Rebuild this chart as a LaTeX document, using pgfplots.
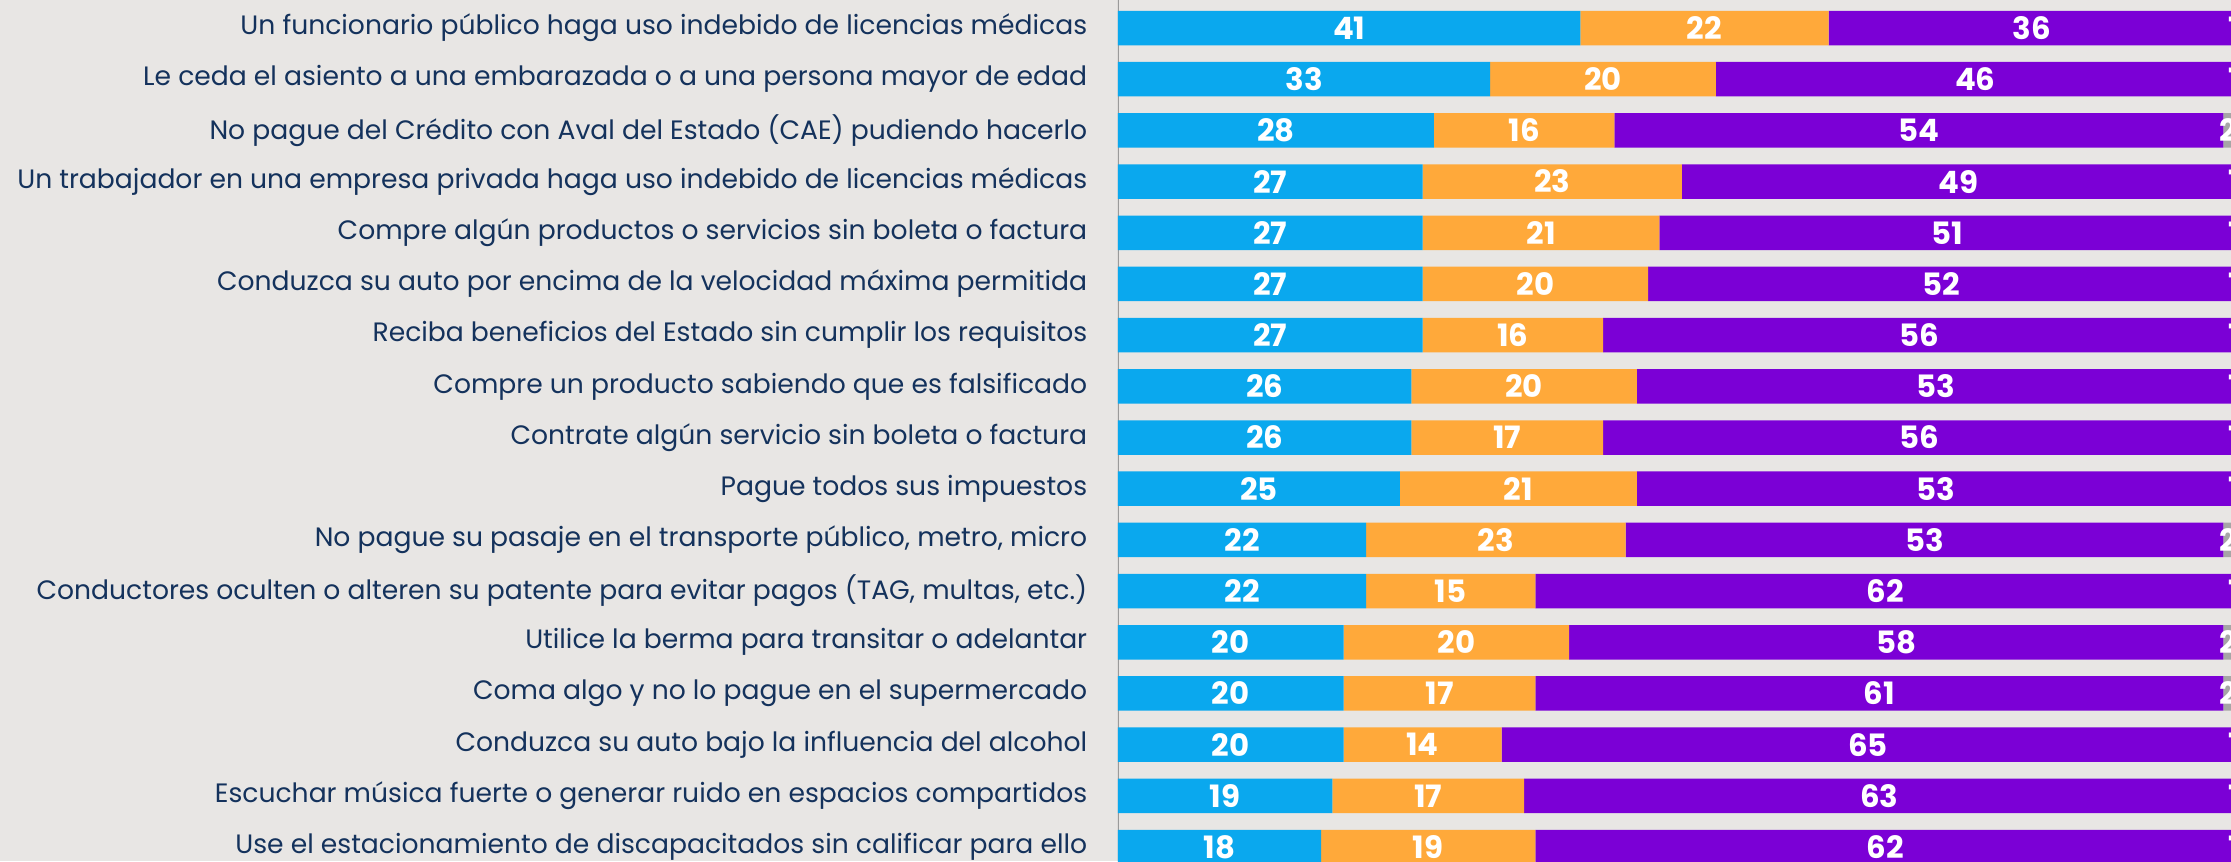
\documentclass[border=0pt]{standalone}
\usepackage{pgfplots}
\pgfplotsset{compat=1.18}
\usepackage{pgfplotstable}
\usepackage{fontspec}
\setmainfont{Poppins}
\definecolor{bgc}{HTML}{E8E6E4}
\definecolor{cblue}{HTML}{0AA8EE}
\definecolor{corange}{HTML}{FFA93A}
\definecolor{cpurple}{HTML}{7B00D6}
\definecolor{cgray}{HTML}{A6A6A6}
\definecolor{navy}{HTML}{14325C}
\definecolor{axgray}{HTML}{9A9A9A}

\pgfplotstableread{
y a b c d
0 41 22 36 1
1 33 20 46 1
2 28 16 54 2
3 27 23 49 1
4 27 21 51 1
5 27 20 52 1
6 27 16 56 1
7 26 20 53 1
8 26 17 56 1
9 25 21 53 1
10 22 23 53 2
11 22 15 62 1
12 20 20 58 2
13 20 17 61 2
14 20 14 65 1
15 19 17 63 1
16 18 19 62 1
}\data

\pgfplotsset{
  base/.style={
    scale only axis,
    width=278.25pt, height=215.25pt,
    anchor=north west, at={(279.5pt,215.25pt)},
    xmin=0, xmax=98.67,
    ymin=-0.547, ymax=16.273,
    y dir=reverse,
    axis line style={draw=none},
    tick style={draw=none},
    xtick=\empty,
    /pgf/number format/assume math mode=true,
  },
  vlab/.style={
    nodes near coords={\pgfmathprintnumber{\pgfplotspointmeta}},
    point meta=explicit,
    every node near coord/.append style={anchor=center, text=white,
      font=\fontsize{7.7}{9}\selectfont\bfseries},
  }
}

\begin{document}
\begin{tikzpicture}
\fill[bgc, use as bounding box] (0,0) rectangle (557.75pt,215.25pt);
\begin{axis}[base,
  xbar stacked,
  bar width=8.625pt,
  ytick={0,...,16},
  yticklabels={
    {Un funcionario público haga uso indebido de licencias médicas\hspace{1.8pt}},
    {Le ceda el asiento a una embarazada o a una persona mayor de edad},
    {No pague del Crédito con Aval del Estado (CAE) pudiendo hacerlo},
    {Un trabajador en una empresa privada haga uso indebido de licencias médicas\hspace{1.8pt}},
    {Compre algún productos o servicios sin boleta o factura},
    {Conduzca su auto por encima de la velocidad máxima permitida},
    {Reciba beneficios del Estado sin cumplir los requisitos},
    {Compre un producto sabiendo que es falsificado\hspace{1.8pt}},
    {Contrate algún servicio sin boleta o factura\hspace{1.8pt}},
    {Pague todos sus impuestos\hspace{1.8pt}},
    {No pague su pasaje en el transporte público, metro, micro},
    {Conductores oculten o alteren su patente para evitar pagos (TAG, multas, etc.)},
    {Utilice la berma para transitar o adelantar},
    {Coma algo y no lo pague en el supermercado\hspace{1.8pt}},
    {Conduzca su auto bajo la influencia del alcohol\hspace{1.8pt}},
    {Escuchar música fuerte o generar ruido en espacios compartidos},
    {Use el estacionamiento de discapacitados sin calificar para ello},
  },
  yticklabel style={anchor=east, inner sep=0pt, xshift=-7.5pt, text=navy,
    font=\fontsize{6.65}{8}\selectfont},
]
\addplot[fill=cblue, draw=none] table[x=a, y=y] {\data};
\addplot[fill=corange, draw=none] table[x=b, y=y] {\data};
\addplot[fill=cpurple, draw=none] table[x=c, y=y] {\data};
\addplot[fill=cgray, draw=none] table[x=d, y=y] {\data};
\draw[axgray, line width=0.55pt] (axis cs:-0.05,-0.547) -- (axis cs:-0.05,16.273);
\end{axis}
\begin{axis}[base, clip=false, ytick=\empty]
\addplot[draw=none, mark=none, vlab] table[x expr=\thisrow{a}/2, y=y, meta=a] {\data};
\addplot[draw=none, mark=none, vlab] table[x expr=\thisrow{a}+\thisrow{b}/2, y=y, meta=b] {\data};
\addplot[draw=none, mark=none, vlab] table[x expr=\thisrow{a}+\thisrow{b}+\thisrow{c}/2, y=y, meta=c] {\data};
\addplot[draw=none, mark=none, vlab, every node near coord/.append style={xshift=-1.5pt}] table[x expr=\thisrow{a}+\thisrow{b}+\thisrow{c}+\thisrow{d}/2, y=y, meta=d] {\data};
\end{axis}
\end{tikzpicture}
\end{document}
